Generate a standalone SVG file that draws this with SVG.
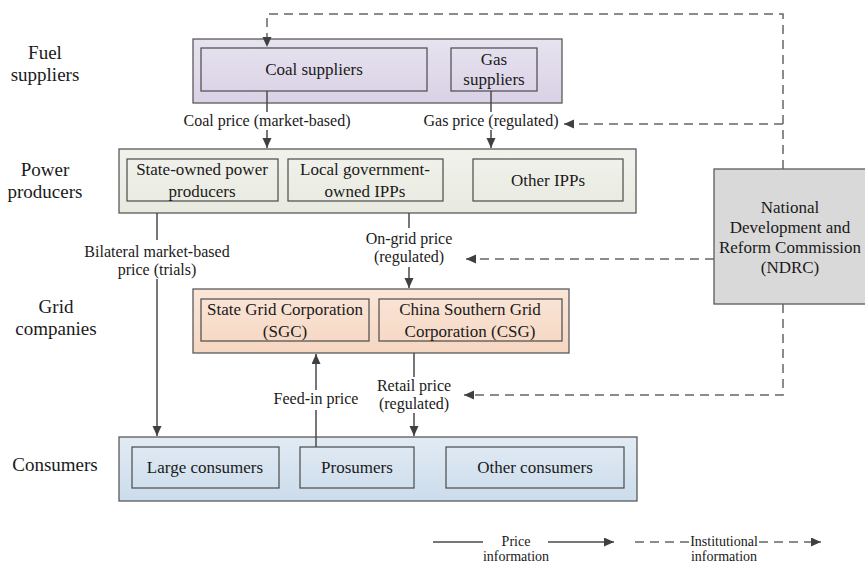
<svg xmlns="http://www.w3.org/2000/svg" width="865" height="563" viewBox="0 0 865 563">
<defs>
<linearGradient id="gFuel" x1="0" y1="0" x2="0" y2="1"><stop offset="0" stop-color="#e7e3ef"/><stop offset="1" stop-color="#d9d1e6"/></linearGradient>
<linearGradient id="gPow" x1="0" y1="0" x2="0" y2="1"><stop offset="0" stop-color="#f1f2ec"/><stop offset="1" stop-color="#e8eae0"/></linearGradient>
<linearGradient id="gGrid" x1="0" y1="0" x2="0" y2="1"><stop offset="0" stop-color="#fae6d9"/><stop offset="1" stop-color="#f5d6c1"/></linearGradient>
<linearGradient id="gCons" x1="0" y1="0" x2="0" y2="1"><stop offset="0" stop-color="#e2ebf4"/><stop offset="1" stop-color="#cbdcec"/></linearGradient>
<marker id="ah" markerUnits="userSpaceOnUse" markerWidth="11" markerHeight="10" refX="10" refY="4.5" orient="auto"><path d="M0,0 L10,4.5 L0,9 z" fill="#404040"/></marker>
</defs>
<style>
text{font-family:"Liberation Serif","Times New Roman",serif;fill:#1a1a1a;text-anchor:middle}
.side{font-size:19px}
.box{font-size:17px}
.lbl{font-size:16px}
.leg{font-size:14px}
.outer{stroke:#5a5a5a;stroke-width:1.3}
.inner{fill:none;stroke:#4a4a4a;stroke-width:1.2}
.sol{fill:none;stroke:#4a4a4a;stroke-width:1.5}
.das{fill:none;stroke:#666;stroke-width:1.5;stroke-dasharray:9,6}
</style>
<g id="side-labels">
<text class="side" x="45" y="59">Fuel</text>
<text class="side" x="45" y="81">suppliers</text>
<text class="side" x="45" y="176">Power</text>
<text class="side" x="45" y="198">producers</text>
<text class="side" x="56" y="313">Grid</text>
<text class="side" x="56" y="335">companies</text>
<text class="side" x="55" y="471">Consumers</text>
</g>
<g id="fuel">
<rect class="outer" x="193" y="39" width="369" height="64" fill="url(#gFuel)"/>
<rect class="inner" x="201" y="48" width="226" height="43"/>
<text class="box" x="314" y="75">Coal suppliers</text>
<rect class="inner" x="451" y="48" width="86" height="43"/>
<text class="box" x="494" y="65">Gas</text>
<text class="box" x="494" y="85">suppliers</text>
</g>
<g id="power">
<rect class="outer" x="119" y="149" width="517" height="64" fill="url(#gPow)"/>
<rect class="inner" x="127" y="159" width="151" height="42"/>
<text class="box" x="202" y="175">State-owned power</text>
<text class="box" x="202" y="197">producers</text>
<rect class="inner" x="288" y="159" width="155" height="42"/>
<text class="box" x="365" y="175">Local government-</text>
<text class="box" x="365" y="197">owned IPPs</text>
<rect class="inner" x="473" y="159" width="150" height="42"/>
<text class="box" x="548" y="186">Other IPPs</text>
</g>
<g id="grid">
<rect class="outer" x="193" y="289" width="376" height="64" fill="url(#gGrid)"/>
<rect class="inner" x="201" y="299" width="168" height="42"/>
<text class="box" x="285" y="315">State Grid Corporation</text>
<text class="box" x="285" y="337">(SGC)</text>
<rect class="inner" x="379" y="299" width="183" height="42"/>
<text class="box" x="470" y="315">China Southern Grid</text>
<text class="box" x="470" y="337">Corporation (CSG)</text>
</g>
<g id="consumers">
<rect class="outer" x="119" y="437" width="518" height="64" fill="url(#gCons)"/>
<rect class="inner" x="132" y="447" width="147" height="41"/>
<text class="box" x="205" y="473">Large consumers</text>
<rect class="inner" x="300" y="447" width="114" height="41"/>
<text class="box" x="357" y="473">Prosumers</text>
<rect class="inner" x="446" y="447" width="178" height="41"/>
<text class="box" x="535" y="473">Other consumers</text>
</g>
<g id="ndrc">
<rect class="outer" x="714" y="169" width="152" height="135" fill="#d9d9d9"/>
<text class="box" x="790" y="213">National</text>
<text class="box" x="790" y="233">Development and</text>
<text class="box" x="790" y="253">Reform Commission</text>
<text class="box" x="790" y="273">(NDRC)</text>
</g>
<g id="connectors">
<path class="das" d="M783,169 V14 H267 V47" marker-end="url(#ah)"/>
<path class="sol" d="M267,91 V112"/>
<path class="sol" d="M267,130 V148" marker-end="url(#ah)"/>
<path class="sol" d="M491,91 V112"/>
<path class="sol" d="M491,130 V148" marker-end="url(#ah)"/>
<path class="das" d="M783,124 H564" marker-end="url(#ah)"/>
<path class="sol" d="M157,213 V240"/>
<path class="sol" d="M157,279 V436" marker-end="url(#ah)"/>
<path class="sol" d="M409,213 V228"/>
<path class="sol" d="M409,267 V288" marker-end="url(#ah)"/>
<path class="das" d="M714,259 H466" marker-end="url(#ah)"/>
<path class="sol" d="M316,447 V410"/>
<path class="sol" d="M316,390 V354" marker-end="url(#ah)"/>
<path class="sol" d="M414,353 V377"/>
<path class="sol" d="M414,413 V436" marker-end="url(#ah)"/>
<path class="das" d="M783,304 V395 H464" marker-end="url(#ah)"/>
</g>
<g id="labels">
<text class="lbl" x="267" y="126">Coal price (market-based)</text>
<text class="lbl" x="491" y="126">Gas price (regulated)</text>
<text class="lbl" x="157" y="257">Bilateral market-based</text>
<text class="lbl" x="157" y="275">price (trials)</text>
<text class="lbl" x="409" y="244">On-grid price</text>
<text class="lbl" x="409" y="262">(regulated)</text>
<text class="lbl" x="316" y="404">Feed-in price</text>
<text class="lbl" x="414" y="391">Retail price</text>
<text class="lbl" x="414" y="409">(regulated)</text>
</g>
<g id="legend">
<path class="sol" d="M433,542 H483"/>
<path class="sol" d="M548,542 H614" marker-end="url(#ah)"/>
<text class="leg" x="516" y="546">Price</text>
<text class="leg" x="516" y="561">information</text>
<path class="das" d="M635,542 H690"/>
<path class="das" d="M759,542 H821" marker-end="url(#ah)" stroke-dasharray="9,6"/>
<text class="leg" x="724" y="546">Institutional</text>
<text class="leg" x="724" y="561">information</text>
</g>
</svg>
